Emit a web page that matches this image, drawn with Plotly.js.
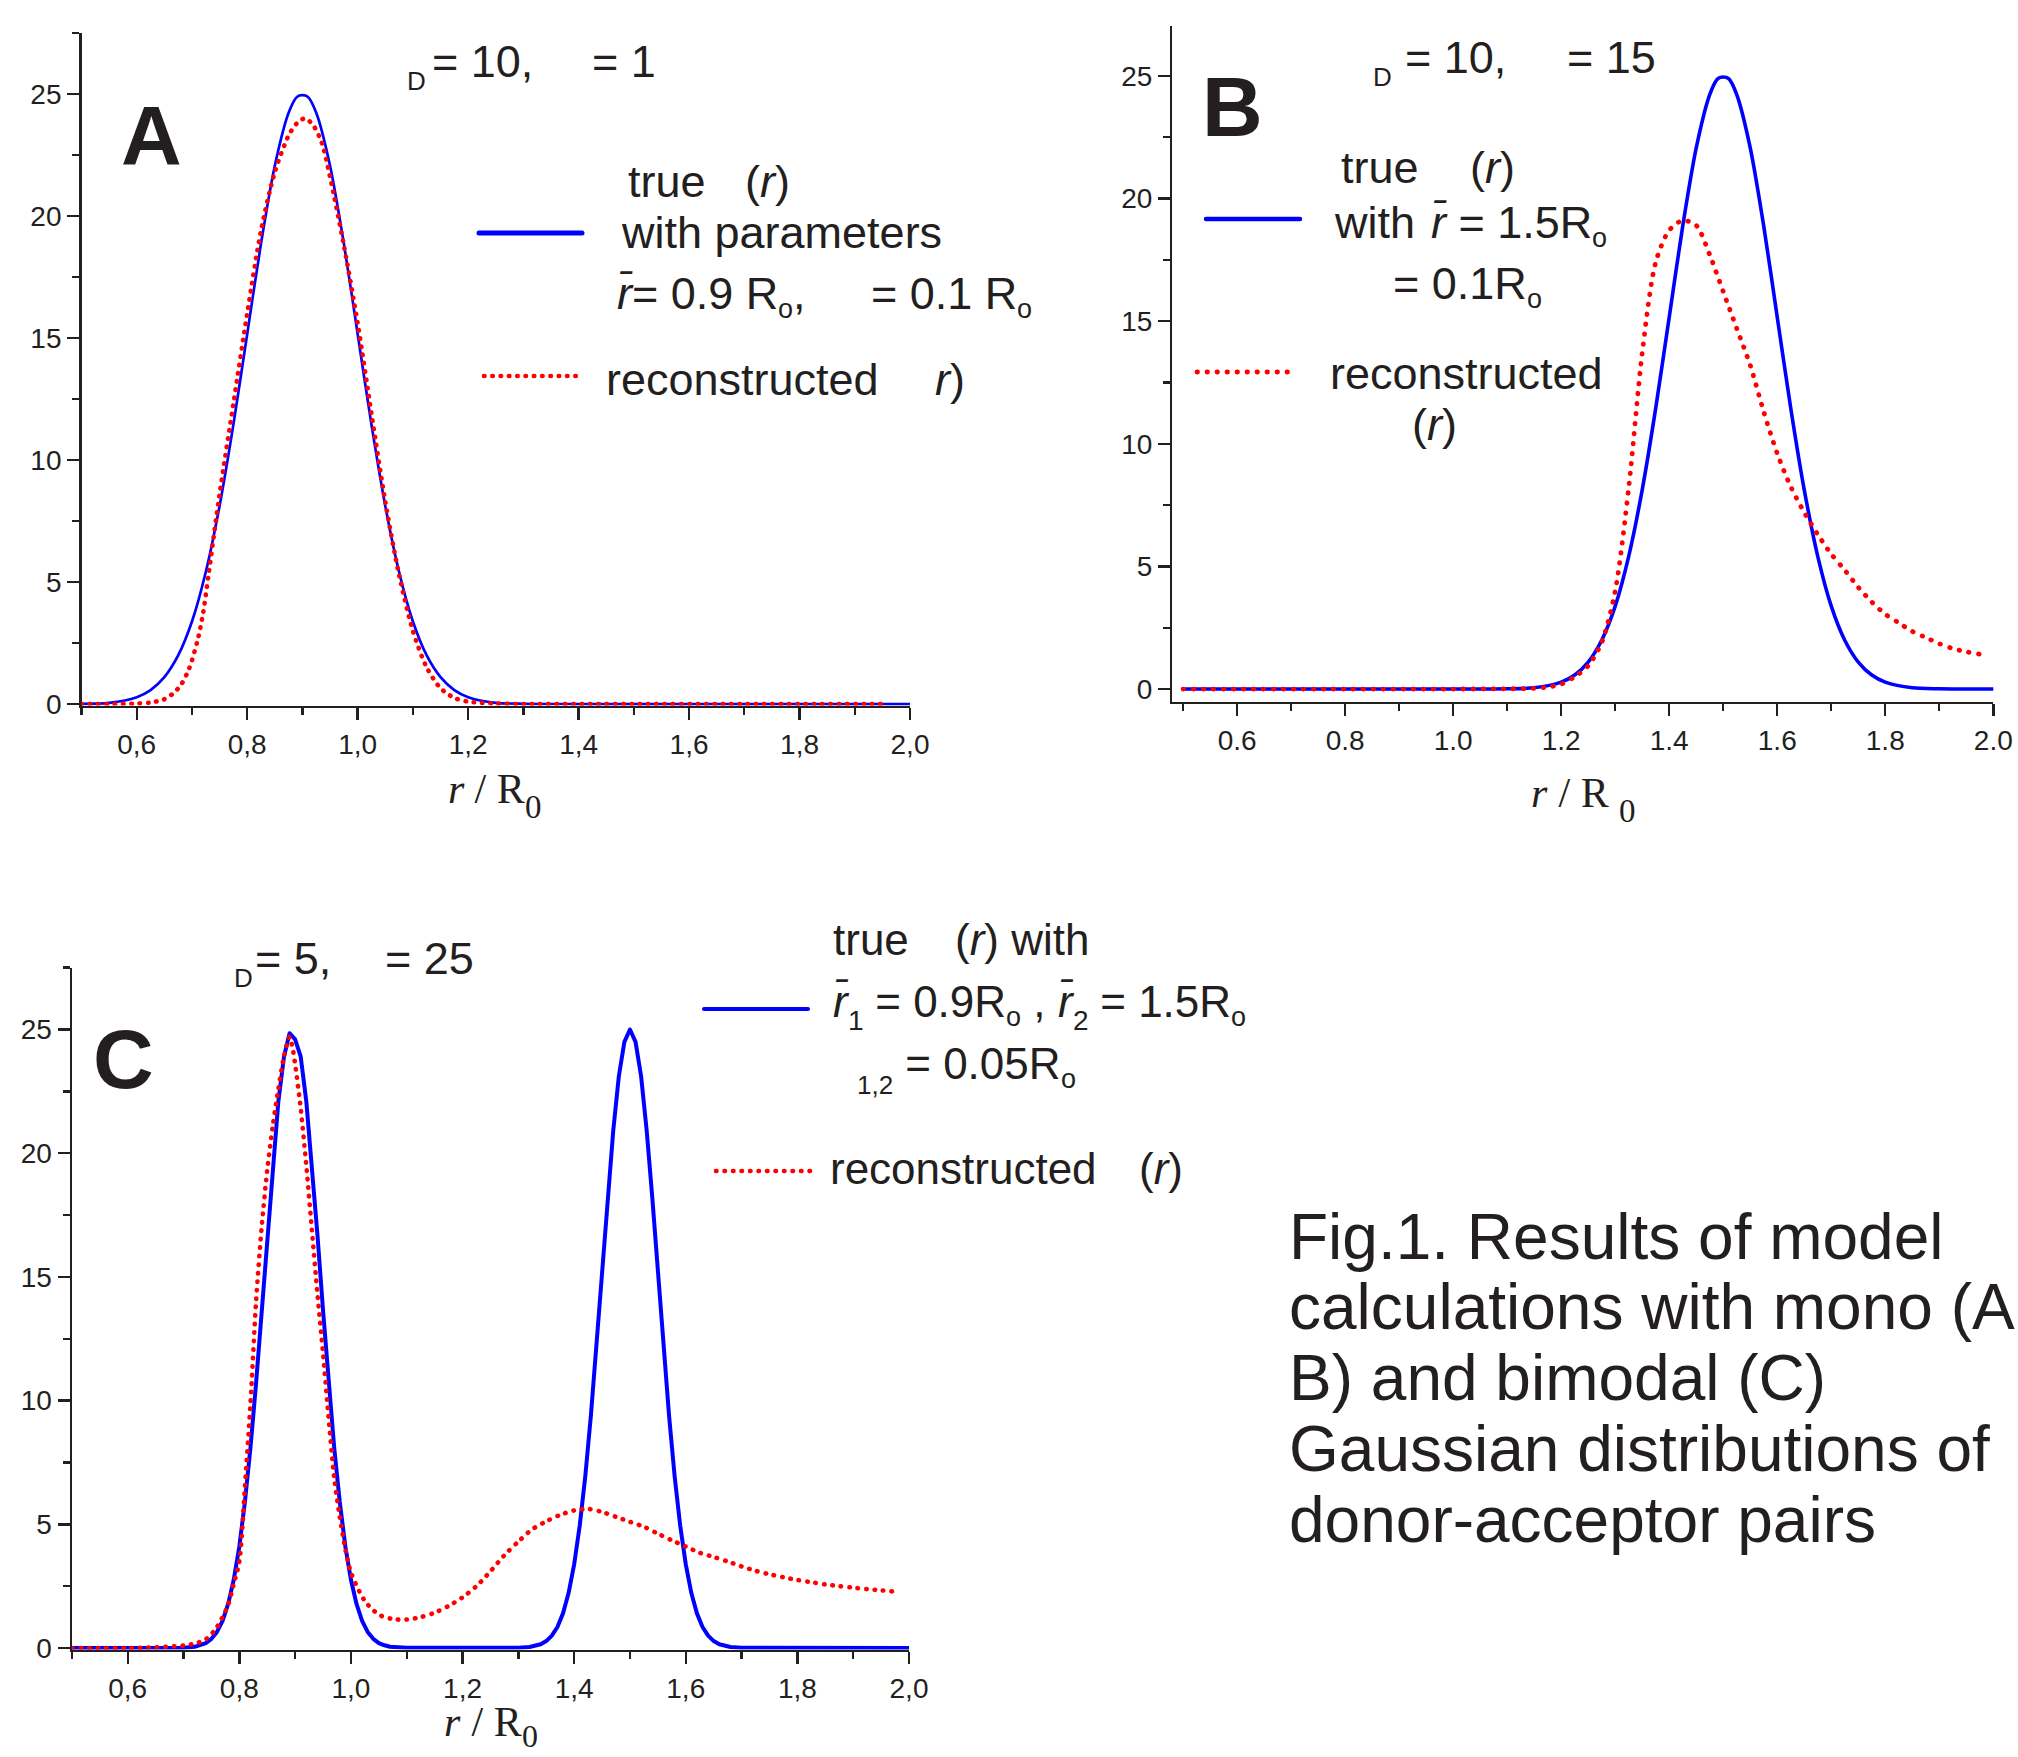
<!DOCTYPE html>
<html>
<head>
<meta charset="utf-8">
<script src="https://cdn.plot.ly/plotly-3.0.1.min.js"></script>
<style>
html,body{margin:0;padding:0;background:#fff;}
#chart{width:2018px;height:1757px;}
.scatterlayer .js-line{stroke-linecap:round;stroke-linejoin:round;}
.shapelayer path{stroke-linecap:round;}
</style>
</head>
<body>
<div id="chart"></div>
<script>
const W = 2018, H = 1757;
const SANS = "'Liberation Sans', Arial, sans-serif";
const SERIF = "'Liberation Serif', 'Times New Roman', serif";
const INK = '#231f20';
const BLUE = '#0000ff';
const RED = '#ff0000';

// ---------- Panel A : true (blue) and reconstructed (red) ----------
const aTrueX = [0.50,0.55,0.60,0.625,0.65,0.675,0.70,0.725,0.75,0.775,0.80,0.825,0.85,0.875,0.89,0.90,0.91,0.925,0.95,0.975,1.00,1.025,1.05,1.075,1.10,1.125,1.15,1.175,1.20,1.25,1.30,1.40,1.60,1.80,2.00];
const aTrueY = [0.01,0.05,0.28,0.57,1.10,1.99,3.38,5.41,8.12,11.45,15.16,18.87,22.06,24.23,24.88,24.95,24.88,24.23,22.06,18.87,15.16,11.45,8.12,5.41,3.38,1.99,1.10,0.57,0.28,0.05,0.01,0,0,0,0];
const aRecX = [0.50,0.55,0.60,0.625,0.65,0.665,0.68,0.695,0.71,0.72,0.73,0.75,0.775,0.80,0.825,0.85,0.875,0.89,0.905,0.92,0.935,0.95,0.975,1.00,1.025,1.05,1.075,1.10,1.125,1.15,1.175,1.20,1.25,1.30,1.50,1.70,1.96];
const aRecY = [0,0,0.02,0.06,0.2,0.42,0.78,1.46,2.6,3.7,5.3,8.6,12.3,16.0,19.4,21.8,23.3,23.8,24.0,23.7,23.0,21.6,18.8,15.6,11.9,8.3,5.3,3.0,1.5,0.65,0.25,0.1,0.02,0,0,0,0];

// ---------- Panel B ----------
const bTrueX = [0.50,0.80,1.00,1.10,1.15,1.20,1.225,1.25,1.275,1.30,1.325,1.35,1.375,1.40,1.425,1.45,1.475,1.49,1.50,1.51,1.525,1.55,1.575,1.60,1.625,1.65,1.675,1.70,1.725,1.75,1.775,1.80,1.85,1.90,2.00];
const bTrueY = [0,0,0,0.01,0.05,0.28,0.57,1.10,1.99,3.38,5.41,8.12,11.45,15.16,18.87,22.06,24.23,24.88,24.95,24.88,24.23,22.06,18.87,15.16,11.45,8.12,5.41,3.38,1.99,1.10,0.57,0.28,0.05,0.01,0];
const bRecX = [0.50,0.80,1.00,1.10,1.15,1.175,1.20,1.225,1.25,1.275,1.30,1.325,1.35,1.375,1.40,1.425,1.45,1.475,1.50,1.525,1.55,1.575,1.60,1.625,1.65,1.675,1.70,1.725,1.75,1.775,1.80,1.825,1.85,1.875,1.90,1.925,1.95,1.975];
const bRecY = [0,0,0,0.01,0.03,0.08,0.2,0.5,0.95,1.9,4.0,8.2,13.7,17.4,18.7,19.1,18.9,17.7,16.2,14.7,13.2,11.3,9.6,8.25,7.2,6.3,5.5,4.85,4.15,3.55,3.05,2.7,2.35,2.1,1.85,1.65,1.52,1.42];

// ---------- Panel C ----------
const cTrueX = [0.50,0.60,0.70,0.72,0.73,0.74,0.75,0.76,0.77,0.78,0.79,0.80,0.81,0.82,0.83,0.84,0.85,0.86,0.87,0.88,0.89,0.90,0.91,0.92,0.93,0.94,0.95,0.96,0.97,0.98,0.99,1.00,1.01,1.02,1.03,1.04,1.05,1.06,1.07,1.10,1.20,1.30,1.32,1.33,1.34,1.35,1.36,1.37,1.38,1.39,1.40,1.41,1.42,1.43,1.44,1.45,1.46,1.47,1.48,1.49,1.50,1.51,1.52,1.53,1.54,1.55,1.56,1.57,1.58,1.59,1.60,1.61,1.62,1.63,1.64,1.65,1.66,1.67,1.68,1.70,1.80,1.90,2.00];
const cTrueY = [0,0,0.01,0.05,0.11,0.2,0.37,0.65,1.10,1.78,2.76,4.1,5.9,8.1,10.7,13.65,16.7,19.6,22.1,23.9,24.85,24.6,23.9,22.1,19.6,16.7,13.65,10.7,8.1,5.9,4.1,2.76,1.78,1.10,0.65,0.37,0.2,0.11,0.05,0.01,0,0.01,0.04,0.08,0.15,0.28,0.5,0.85,1.4,2.22,3.38,4.95,6.95,9.4,12.2,15.2,18.2,20.9,23.1,24.5,25.0,24.5,23.1,20.9,18.2,15.2,12.2,9.4,6.95,4.95,3.38,2.22,1.4,0.85,0.5,0.28,0.15,0.08,0.04,0.01,0,0,0];
const cRecX = [0.50,0.60,0.65,0.70,0.72,0.74,0.76,0.78,0.79,0.80,0.81,0.82,0.83,0.84,0.85,0.86,0.87,0.88,0.89,0.895,0.90,0.91,0.92,0.93,0.94,0.95,0.96,0.97,0.98,0.99,1.00,1.025,1.05,1.075,1.10,1.125,1.15,1.175,1.20,1.225,1.25,1.275,1.30,1.325,1.35,1.375,1.40,1.425,1.45,1.475,1.50,1.525,1.55,1.575,1.60,1.625,1.65,1.675,1.70,1.725,1.75,1.775,1.80,1.825,1.85,1.875,1.90,1.925,1.95,1.97];
const cRecY = [0,0,0.03,0.1,0.18,0.35,0.85,1.75,2.6,3.5,6.5,9.9,14.0,17.0,19.3,21.1,22.6,23.9,24.7,24.3,23.6,21.8,19.5,16.9,14.3,11.9,9.3,6.9,5.3,4.0,3.05,1.9,1.35,1.17,1.15,1.25,1.43,1.7,2.05,2.5,3.1,3.75,4.3,4.8,5.12,5.38,5.56,5.62,5.5,5.3,5.1,4.9,4.62,4.35,4.1,3.85,3.68,3.5,3.3,3.12,2.98,2.86,2.75,2.66,2.57,2.5,2.44,2.38,2.33,2.29];

// ---------- Tick labels ----------
const xTickVals = [0.6,0.8,1.0,1.2,1.4,1.6,1.8,2.0];
const xTickTextComma = ['0,6','0,8','1,0','1,2','1,4','1,6','1,8','2,0'];
const xTickTextDot = ['0.6','0.8','1.0','1.2','1.4','1.6','1.8','2.0'];
const yTickVals = [0,5,10,15,20,25];
const yTickText = ['0','5','10','15','20','25'];

// ---------- Caption ----------
const captionLines = ['Fig.1. Results of model','calculations with mono (A','B) and bimodal (C)','Gaussian distributions of','donor-acceptor pairs'];

function xAxis(px, range, ticktext, anchor) {
  return {
    domain: [px[0]/W, px[1]/W], range: range, anchor: anchor,
    showline: true, linecolor: INK, linewidth: 2.4,
    ticks: 'outside', ticklen: 12, tickwidth: 2.4, tickcolor: INK,
    tickmode: 'array', tickvals: xTickVals, ticktext: ticktext,
    tickfont: {family: SANS, size: 28, color: INK},
    minor: {ticks: 'outside', ticklen: 7, tickwidth: 2.4, tickcolor: INK, tickmode: 'linear', tick0: 0.5, dtick: 0.1, showgrid: false},
    showgrid: false, zeroline: false, layer: 'below traces', fixedrange: true
  };
}
function yAxis(px, range, anchor) {
  return {
    domain: [1 - px[0]/H, 1 - px[1]/H], range: range, anchor: anchor,
    showline: true, linecolor: INK, linewidth: 2.4,
    ticks: 'outside', ticklen: 12, tickwidth: 2.4, tickcolor: INK,
    tickmode: 'array', tickvals: yTickVals, ticktext: yTickText,
    tickfont: {family: SANS, size: 28, color: INK},
    minor: {ticks: 'outside', ticklen: 7, tickwidth: 2.4, tickcolor: INK, tickmode: 'linear', tick0: 0, dtick: 2.5, showgrid: false},
    showgrid: false, zeroline: false, layer: 'below traces', fixedrange: true
  };
}

function line(x, y, xa, ya, color, width, dash, shape) {
  return {type: 'scatter', mode: 'lines', x: x, y: y, xaxis: xa, yaxis: ya,
    line: {color: color, width: width, dash: dash || 'solid', shape: shape || 'spline', smoothing: 0.8},
    hoverinfo: 'skip', showlegend: false};
}

const traces = [
  line(aTrueX, aTrueY, 'x', 'y', BLUE, 2.7),
  line(aRecX, aRecY, 'x', 'y', RED, 4.6, '0.5px,7.8px'),
  line(bTrueX, bTrueY, 'x2', 'y2', BLUE, 3.6),
  line(bRecX, bRecY, 'x2', 'y2', RED, 4.8, '0.5px,9.5px'),
  line(cTrueX, cTrueY, 'x3', 'y3', BLUE, 4, 'solid', 'linear'),
  line(cRecX, cRecY, 'x3', 'y3', RED, 4.6, '0.5px,8px')
];

// ---------- text helpers ----------
const ctx = document.createElement('canvas').getContext('2d');
function measure(t, size, italic, family) {
  ctx.font = (italic ? 'italic ' : '') + size + 'px ' + family;
  return ctx.measureText(t).width;
}
function nb(s) { return s.replace(/ /g, '\u00a0'); }
function txt(t, x, base, size, family) {
  family = family || SANS;
  return {text: t, xref: 'paper', yref: 'paper', x: x/W, y: 1 - (base - 0.35*size)/H,
    xanchor: 'left', yanchor: 'middle', showarrow: false, borderpad: 0, borderwidth: 0,
    font: {family: family, size: size, color: INK}};
}
// parts: strings (upright), {t, i:true} italic, {t, s:size, d:drop} subscript
function rich(x, base, size, parts, family) {
  family = family || SANS;
  const out = [];
  let cx = x;
  parts.forEach(function (p) {
    if (typeof p === 'string') p = {t: p};
    const sz = p.s || size;
    const b = base + (p.d || 0);
    const t = nb(p.t);
    out.push(txt(p.i ? '<i>' + t + '</i>' : t, cx, b, sz, family));
    cx += measure(t, sz, !!p.i, family);
  });
  return out;
}
function richWidth(size, parts, family) {
  let w = 0;
  parts.forEach(function (p) {
    if (typeof p === 'string') p = {t: p};
    w += measure(nb(p.t), p.s || size, !!p.i, family);
  });
  return w;
}
function centered(cx, base, size, parts, family) {
  return rich(cx - richWidth(size, parts, family)/2, base, size, parts, family);
}

const RB = 'r\u0304';
const sD = {t: 'D', s: 26, d: 13};
const sO = {t: 'o', s: 27, d: 9};
let annotations = [];
function add(list) { annotations = annotations.concat(list); }

// Panel A
add(rich(407, 77, 45, [sD]));
add([txt('= 10,', 432, 77, 45), txt('= 1', 592, 77, 45)]);
add([txt('<b>A</b>', 121, 165, 84)]);
add([txt('true', 628, 197, 45), txt('(<i>r</i>)', 745, 197, 45), txt('with parameters', 621, 248, 45)]);
add(rich(617, 309, 45, [{t: RB, i: true}, '= 0.9 R', sO, ',']));
add(rich(871, 309, 45, ['= 0.1 R', sO]));
add([txt('reconstructed', 606, 395, 45), txt('<i>r</i>)', 935, 395, 45)]);
// Panel B
add(rich(1373, 73, 45, [sD]));
add([txt('= 10,', 1405, 73, 45), txt('= 15', 1567, 73, 45)]);
add([txt('<b>B</b>', 1202, 136, 84)]);
add([txt('true', 1341, 183, 45), txt('(<i>r</i>)', 1470, 183, 45), txt('with', 1334, 238, 45)]);
add(rich(1431, 238, 45, [{t: RB, i: true}, ' = 1.5R', sO]));
add(rich(1393, 299, 45, ['= 0.1R', sO]));
add([txt('reconstructed', 1330, 389, 45), txt('(<i>r</i>)', 1412, 440, 45)]);
// Panel C
add(rich(234, 974, 45, [sD]));
add([txt('= 5,', 255, 974, 45), txt('= 25', 385, 974, 45)]);
add([txt('<b>C</b>', 93, 1088, 84)]);
add([txt('true', 833, 955, 44), txt('(<i>r</i>) with', 955, 955, 44)]);
add(rich(833, 1017, 44, [{t: RB, i: true}, {t: '1', s: 28, d: 13}, ' = 0.9R', sO, ' , ',
                         {t: RB, i: true}, {t: '2', s: 28, d: 13}, ' = 1.5R', sO]));
add(rich(857, 1079, 44, [{t: '1,2', s: 26, d: 15}, ' = 0.05R', sO]));
add([txt('reconstructed', 830, 1184, 44), txt('(<i>r</i>)', 1139, 1184, 44)]);
// axis titles r / R0
add(centered(494.5, 804, 42, [{t: 'r', i: true}, ' / R', {t: '0', s: 33, d: 15}], SERIF));
add(centered(1583.5, 808, 42, [{t: 'r', i: true}, ' / R ', {t: '0', s: 33, d: 15}], SERIF));
add(centered(491, 1737, 42, [{t: 'r', i: true}, ' / R', {t: '0', s: 32, d: 10}], SERIF));
// caption
const capBase = [1259, 1329, 1400, 1471, 1542];
captionLines.forEach(function (s, i) { annotations.push(txt(nb(s), 1289, capBase[i], 64)); });

// legend line samples
function sample(x0, x1, y, color, width, dash) {
  return {type: 'line', xref: 'paper', yref: 'paper', x0: x0/W, x1: x1/W, y0: 1 - y/H, y1: 1 - y/H,
    line: {color: color, width: width, dash: dash || 'solid'}};
}
const shapes = [
  sample(479, 582, 233, BLUE, 5),
  sample(484, 577, 376, RED, 4.6, '0.5px,7.8px'),
  sample(1206, 1300, 219, BLUE, 4.5),
  sample(1197, 1297, 372, RED, 4.8, '0.5px,9.5px'),
  sample(704, 808, 1009, BLUE, 4),
  sample(716, 811, 1171, RED, 4.6, '0.5px,8px')
];

const layout = {
  width: W, height: H,
  margin: {l: 0, r: 0, t: 0, b: 0, pad: 0},
  paper_bgcolor: '#ffffff', plot_bgcolor: 'rgba(0,0,0,0)',
  showlegend: false,
  xaxis: xAxis([81.5, 910], [0.5, 2.0], xTickTextComma, 'y'),
  yaxis: yAxis([705.5, 33], [-0.06, 27.5], 'x'),
  xaxis2: xAxis([1172.3, 1993.3], [0.48, 2.0], xTickTextDot, 'y2'),
  yaxis2: yAxis([701.8, 25.7], [-0.52, 27.04], 'x2'),
  xaxis3: xAxis([71.9, 909], [0.5, 2.0], xTickTextComma, 'y3'),
  yaxis3: yAxis([1649.5, 967.6], [-0.06, 27.5], 'x3'),
  annotations: annotations,
  shapes: shapes
};

Plotly.newPlot('chart', traces, layout, {staticPlot: true, displayModeBar: false});
</script>
</body>
</html>
